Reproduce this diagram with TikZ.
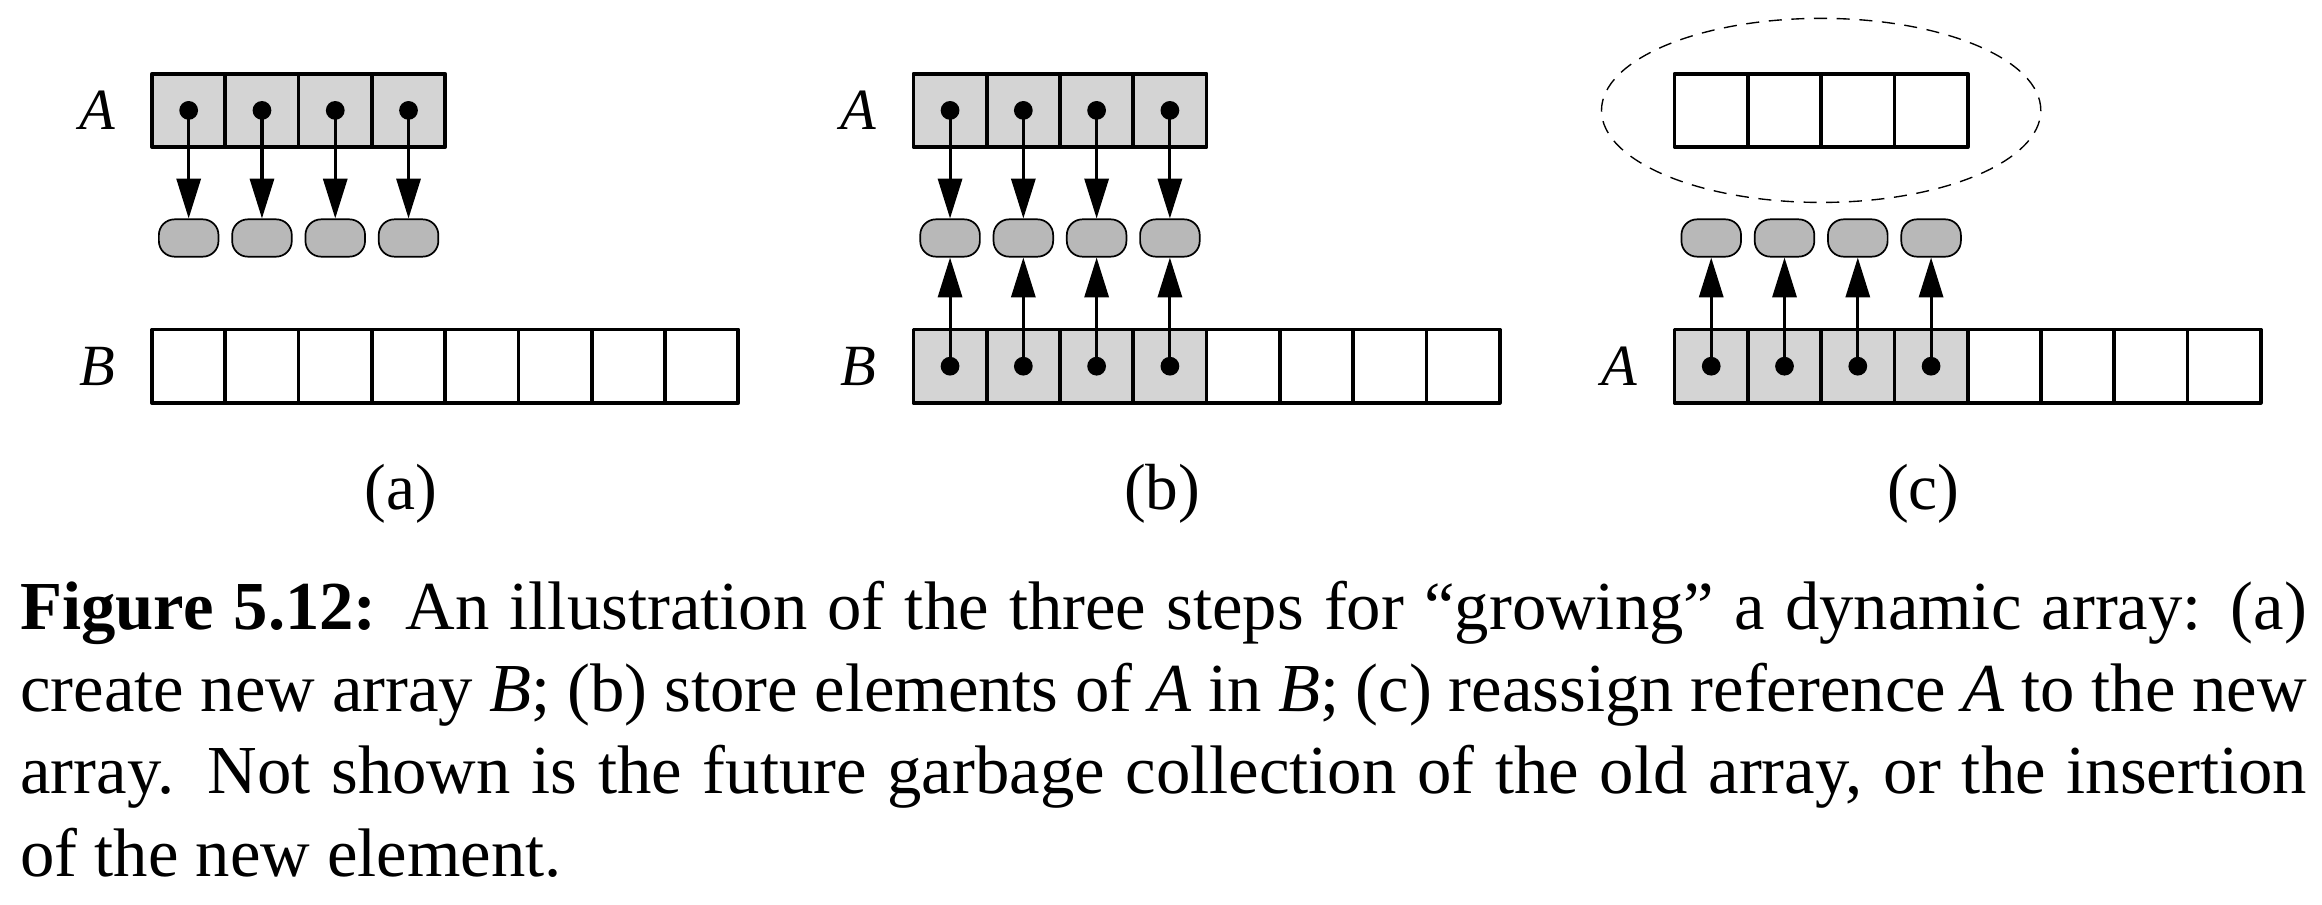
\documentclass[tikz,border=0pt]{standalone}
\usepackage{fontspec}
\setmainfont{Liberation Serif}
\usetikzlibrary{arrows.meta,positioning}
\definecolor{zellgrau}{gray}{0.83}
\definecolor{objgrau}{gray}{0.72}
\begin{document}
\begin{tikzpicture}[line join=round,x=1cm,y=1cm,
	zelle/.style={draw, line width=0.55pt, minimum size=0.375cm, inner sep=0pt},
	voll/.style={zelle, fill=zellgrau},
	objekt/.style={draw, line width=0.25pt, fill=objgrau, rounded corners=0.08cm, minimum width=0.305cm, minimum height=0.191cm, inner sep=0pt},
	zeiger/.style={line width=0.45pt, -{Triangle[length=5.8pt,width=3.5pt]}},
	feldname/.style={font=\fontsize{8.5}{10}\selectfont\itshape, inner sep=0pt},
	teil/.style={font=\fontsize{9.5}{11}\selectfont, inner sep=0pt}]
	\useasboundingbox (0,0) rectangle (11.882,4.631);
	% (a) neues Feld B anlegen
	\begin{scope}[xshift=0.778cm]
		\foreach \i in {1,...,4}
			\node[voll] (aA\i) at (\i*0.375-0.1875,4.066) {};
		\foreach \i in {1,...,8}
			\node[zelle] (aB\i) at (\i*0.375-0.1875,2.757) {};
		\foreach \i in {1,...,4} {
			\node[objekt] (aO\i) at (\i*0.375-0.1875,3.413) {};
			\draw[zeiger] (aA\i.center) -- (aO\i);
			\fill (aA\i) circle (0.048);
		}
		\node[feldname] (aLA) at (-0.281,4.066) {A};
		\node[feldname] (aLB) at (-0.281,2.757) {B};
		\node[teil] (aL) at (1.273,2.105) {(a)};
	\end{scope}
	% (b) Elemente von A in B speichern
	\begin{scope}[xshift=4.674cm]
		\foreach \i in {1,...,4}
			\node[voll] (bA\i) at (\i*0.375-0.1875,4.066) {};
		\foreach \i in {1,...,4}
			\node[voll] (bB\i) at (\i*0.375-0.1875,2.757) {};
		\foreach \i in {5,...,8}
			\node[zelle] (bB\i) at (\i*0.375-0.1875,2.757) {};
		\foreach \i in {1,...,4} {
			\node[objekt] (bO\i) at (\i*0.375-0.1875,3.413) {};
			\draw[zeiger] (bA\i.center) -- (bO\i);
			\draw[zeiger] (bB\i.center) -- (bO\i);
			\fill (bA\i) circle (0.048);
			\fill (bB\i) circle (0.048);
		}
		\node[feldname] (bLA) at (-0.281,4.066) {A};
		\node[feldname] (bLB) at (-0.281,2.757) {B};
		\node[teil] (bL) at (1.273,2.105) {(b)};
	\end{scope}
	% (c) Referenz A neu zuweisen
	\begin{scope}[xshift=8.569cm]
		\foreach \i in {1,...,4}
			\node[zelle] (cX\i) at (\i*0.375-0.1875,4.066) {};
		\draw [dashed, dash pattern=on 1.9pt off 1.4pt, line width=0.2pt] (0.75,4.066) ellipse [x radius=1.124, y radius=0.471];
		\foreach \i in {1,...,4}
			\node[voll] (cA\i) at (\i*0.375-0.1875,2.757) {};
		\foreach \i in {5,...,8}
			\node[zelle] (cA\i) at (\i*0.375-0.1875,2.757) {};
		\foreach \i in {1,...,4} {
			\node[objekt] (cO\i) at (\i*0.375-0.1875,3.413) {};
			\draw[zeiger] (cA\i.center) -- (cO\i);
			\fill (cA\i) circle (0.048);
		}
		\node[feldname] (cLA) at (-0.281,2.757) {A};
		\node[teil] (cL) at (1.273,2.105) {(c)};
	\end{scope}
	% Bildunterschrift
	\node[anchor=base west, text width=11.70cm, align=justify, inner sep=0pt, font=\fontsize{10}{12}\selectfont] (unterschrift) at (0.097,1.412)
		{\textbf{Figure 5.12:} An illustration of the three steps for ``growing'' a dynamic array: (a)\linebreak
		create new array \textit{B}; (b) store elements of \textit{A} in \textit{B}; (c) reassign reference \textit{A} to the new\linebreak
		array. Not shown is the future garbage collection of the old array, or the insertion\linebreak
		of the new element.};
\end{tikzpicture}
\end{document}
